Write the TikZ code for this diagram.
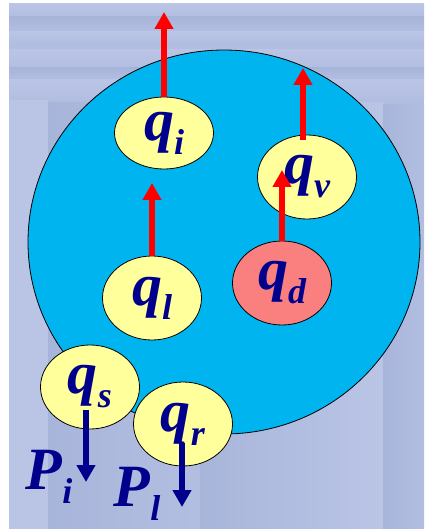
\documentclass[tikz,border=0pt]{standalone}
\usepackage{fontspec}
\setmainfont{Liberation Serif}
\usepackage{xcolor}
\usepackage{tikz}
\usetikzlibrary{shapes.geometric, arrows.meta, positioning}
\definecolor{poolblue}{RGB}{0,180,240}
\definecolor{bubble}{RGB}{255,255,155}
\definecolor{salmon}{RGB}{250,128,128}
\definecolor{navy}{RGB}{0,0,140}
\definecolor{slide}{RGB}{178,190,225}
\definecolor{slidelight}{RGB}{186,197,230}
\definecolor{slidedark}{RGB}{168,181,218}
\newcommand{\qfont}{\fontsize{60}{60}\selectfont\bfseries\itshape}
\newcommand{\flab}[2]{#1\raisebox{-14pt}{\fontsize{36}{36}\selectfont #2}}
\tikzstyle{flux} = [ellipse, draw=black, line width=0.8pt, fill=bubble, minimum width=99pt, minimum height=84pt, inner sep=0pt, font=\qfont, text=navy]
\tikzstyle{plabel} = [inner sep=0pt, font=\qfont, text=navy]
\tikzstyle{uparrow} = [line width=6pt, red, -{Triangle[width=18pt,length=17pt]}]
\tikzstyle{downarrow} = [line width=6pt, navy, -{Triangle[width=18pt,length=17pt]}]

\begin{document}
\begin{tikzpicture}[x=1pt, y=-1pt]
\useasboundingbox (0,0) rectangle (424,529);

% Slide background
\fill[white] (0,0) rectangle (424,529);
\fill[slide] (9,4) rectangle (424,529);
\foreach \ya/\yb/\c in {4/17/slidelight, 17/32/slidedark, 32/43/slidelight, 43/50/slide, 50/68/slidelight, 68/80/slidedark, 80/100/slidelight} {
  \shade[top color=\c, bottom color=slide] (9,\ya) rectangle (424,\yb);
}
\fill[slidelight] (9,100) rectangle (48,529);
\shade[left color=slidedark, right color=slide] (48,103) rectangle (200,529);
\shade[left color=slidedark, right color=slidelight] (200,103) rectangle (383,529);
\shade[left color=slidedark, right color=slide] (383,105) rectangle (424,529);

% Control volume
\node (pool) [ellipse, draw=black, line width=0.8pt, fill=poolblue, minimum width=392pt, minimum height=384pt] at (224,242) {};

% Fluxes
\node (qi) [flux, minimum height=72pt] at (164,133) {\flab{q}{i}};
\node (qv) [flux] at (307,177) {\flab{q}{v}};
\node (ql) [flux] at (152,298) {\flab{q}{l}};
\node (qd) [flux, fill=salmon] at (282,283) {\flab{q}{d}};
\node (qs) [flux] at (90,387) {\flab{q}{s}};
\node (qr) [flux] at (183,424) {\flab{q}{r}};

% Outputs
\node (pi) [plabel] at (49,477) {\flab{P}{i}};
\node (pl) [plabel] at (137,494) {\flab{P}{l}};

% Arrow ends
\coordinate (qiend) at (164,12);
\coordinate (qvend) at (303,68);
\coordinate (qlend) at (152,183);
\coordinate (qdend) at (282,170);
\coordinate (qsend) at (86,482);
\coordinate (qrend) at (182,507);

% Connections
\draw [uparrow] (qi.north) -- (qiend);
\draw [uparrow] ([xshift=-4pt, yshift=-5pt]qv.north) -- (qvend);
\draw [uparrow] (ql.north) -- (qlend);
\draw [uparrow] (qd.north) -- (qdend);
\draw [downarrow] ([xshift=-4pt, yshift=-23pt]qs.center) -- (qsend);
\draw [downarrow] ([xshift=-1pt, yshift=-19pt]qr.center) -- (qrend);

\end{tikzpicture}
\end{document}
